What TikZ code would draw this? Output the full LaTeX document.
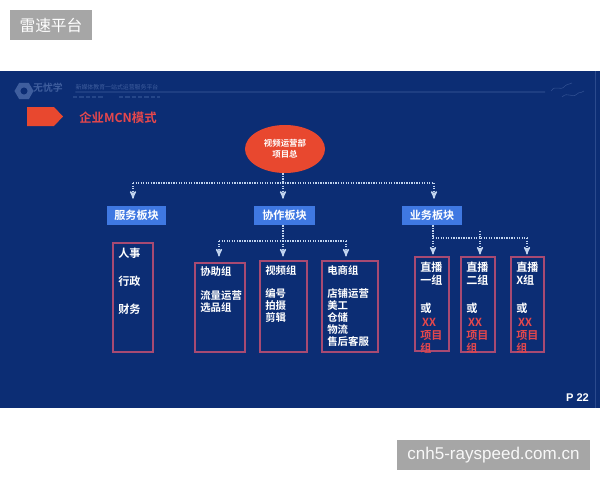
\documentclass[tikz,border=0pt]{standalone}
\usepackage{fontspec}
\setmainfont{Noto Sans CJK SC}[BoldFont={Noto Sans CJK SC Bold}]
\newfontfamily\latinfont{Liberation Sans}
\usepackage{tikz}
\usetikzlibrary{arrows,positioning,calc,shapes.geometric}
\definecolor{slidebg}{HTML}{0C2D74}
\definecolor{headcol}{HTML}{3F78E2}
\definecolor{bosscol}{HTML}{E8482F}
\definecolor{framecol}{HTML}{A84A72}
\definecolor{linkcol}{HTML}{C2D4EF}
\definecolor{redtxt}{HTML}{E5474C}
\definecolor{fadecol}{HTML}{3F5E9E}
\definecolor{tagcol}{HTML}{A6A6A6}
\newcommand{\zh}[1]{\fontsize{#1}{#1}\selectfont}
\tikzset{
 headbox/.style={fill=headcol, text=white, font=\bfseries\zh{7.9}, inner sep=0pt, minimum width=59\pxu, minimum height=19\pxu},
 grpbox/.style={draw=framecol, line width=0.75pt, inner sep=0pt},
 grptext/.style={anchor=north west, inner sep=0pt, text=white, align=left, font=\bfseries\zh{7.4}},
 tagbox/.style={fill=tagcol, text=white, inner sep=0pt},
 link/.style={line width=0.9pt, draw=linkcol, dash pattern=on 0.9pt off 0.9pt},
 linkarr/.style={link, ->, >=stealth', shorten >=7\pxu},
}
\newcommand{\pxu}{*0.7113pt}
\begin{document}
\begin{tikzpicture}[x=0.025cm, y=-0.025cm]
\useasboundingbox (0,0) rectangle (600,480);
\fill[slidebg] (0,71) rectangle (600,408);
\fill[fadecol!60!slidebg] (595,71) rectangle (596,408);
% header
\node[regular polygon, regular polygon sides=6, fill=fadecol, minimum size=19\pxu, inner sep=0pt] (logo) at (24,91) {};
\node[fill=slidebg, circle, minimum size=7\pxu, inner sep=0pt] (logohole) at (logo) {};
\node[text=fadecol, font=\bfseries\zh{7}, inner sep=0pt] (brand) at (48,88) {无忧学};
\node[text=fadecol, font=\zh{4.2}, inner sep=0pt] (slogan) at (117,87) {新媒体教育一站式运营服务平台};
\draw[fadecol, line width=0.6pt] (slogan.south west) ++(0,2) coordinate (rule1) -- (545,92) coordinate (rule2);
\draw[fadecol!50!slidebg, line width=1.5pt, dash pattern=on 3pt off 1.5pt] (73,97) -- (104,97);
\draw[fadecol!50!slidebg, line width=1.5pt, dash pattern=on 3pt off 1.5pt] (119,97) -- (160,97);
\draw[fadecol!70!slidebg, line width=0.4pt] (551,91) .. controls (556,84) and (560,92) .. (565,86) .. controls (568,83) and (570,85) .. (572,83);
\draw[fadecol!70!slidebg, line width=0.4pt] (562,97) .. controls (568,91) and (572,99) .. (577,94) .. controls (580,91) and (582,94) .. (584,91);
\path[fill=bosscol] (27,107) -- (54,107) -- (63,116.5) -- (54,126) -- (27,126) -- cycle;
\node[text=redtxt, font=\bfseries\zh{8.8}, anchor=west, inner sep=0pt] (title) at (79,118) {企业MCN模式};
% top level
\node[ellipse, fill=bosscol, text=white, align=center, font=\bfseries\zh{6}, minimum width=80\pxu, minimum height=48\pxu, inner sep=0pt] (boss) at (285,149) {视频运营部\\[1.5pt]项目总};
\node[headbox] (svc) at (136.5,215.5) {服务板块};
\node[headbox, minimum width=61\pxu] (coop) at (284.5,215.5) {协作板块};
\node[headbox] (biz) at (432,215.5) {业务板块};
\coordinate (trunk) at (283,183);
\coordinate (trunkl) at (133,183);
\coordinate (trunkr) at (434,183);
\draw[link] (trunk |- boss.south) -- (trunk);
\draw[link] (trunkl) -- (trunkr);
\draw[linkarr] (trunkl) -- (trunkl |- svc.north);
\draw[linkarr] (trunk) -- (trunk |- coop.north);
\draw[linkarr] (trunkr) -- (trunkr |- biz.north);
% service column
\node[grpbox, minimum width=40\pxu, minimum height=109\pxu] (g1) at (133,297.5) {};
\node[grptext, font=\bfseries\zh{7.9}] (g1t) at (118,247.5) {人事\\[12pt]行政\\[12pt]财务};
% cooperation column
\node[grpbox, minimum width=50\pxu, minimum height=89\pxu] (g2) at (220,307.5) {};
\node[grpbox, minimum width=47\pxu, minimum height=91\pxu] (g3) at (283.5,306.5) {};
\node[grpbox, minimum width=56\pxu, minimum height=91\pxu] (g4) at (350,306.5) {};
\node[grptext] (g2t) at (200,266) {协助组\\[10pt]流量运营\\[1.2pt]选品组};
\node[grptext] (g3t) at (265,265) {视频组\\[9pt]编号\\[1.2pt]拍摄\\[1.2pt]剪辑};
\node[grptext] (g4t) at (327,265) {电商组\\[9pt]店铺运营\\[1.2pt]美工\\[1.2pt]仓储\\[1.2pt]物流\\[1.2pt]售后客服};
\coordinate (midc) at (283,241);
\coordinate (midl) at (219,241);
\coordinate (midr) at (346,241);
\draw[link] (coop.south -| midc) -- (midc);
\draw[link] (midl) -- (midr);
\draw[linkarr, shorten >=6\pxu] (midl) -- (midl |- g2.north);
\draw[linkarr, shorten >=4\pxu] (midc) -- (midc |- g3.north);
\draw[linkarr, shorten >=4\pxu] (midr) -- (midr |- g4.north);
% business column
\node[grpbox, minimum width=34\pxu, minimum height=94\pxu] (g5) at (432,304) {};
\node[grpbox, minimum width=34\pxu, minimum height=95\pxu] (g6) at (478,304.5) {};
\node[grpbox, minimum width=33\pxu, minimum height=95\pxu] (g7) at (527.5,304.5) {};
\node[grptext, font=\bfseries\zh{7.9}] (g5t) at (420,262) {直播\\[1.5pt]一组\\[12pt]或\\[1.5pt]\textcolor{redtxt}{\,XX}\\[1.5pt]\textcolor{redtxt}{项目}\\[1.5pt]\textcolor{redtxt}{组}};
\node[grptext, font=\bfseries\zh{7.9}] (g6t) at (466,262) {直播\\[1.5pt]二组\\[12pt]或\\[1.5pt]\textcolor{redtxt}{\,XX}\\[1.5pt]\textcolor{redtxt}{项目}\\[1.5pt]\textcolor{redtxt}{组}};
\node[grptext, font=\bfseries\zh{7.9}] (g7t) at (516,262) {直播\\[1.5pt]X组\\[12pt]或\\[1.5pt]\textcolor{redtxt}{\,XX}\\[1.5pt]\textcolor{redtxt}{项目}\\[1.5pt]\textcolor{redtxt}{组}};
\coordinate (busl) at (433,238);
\coordinate (busm) at (480,238);
\coordinate (busr) at (527,238);
\draw[link] (biz.south -| busl) -- (busl);
\draw[link] (busl) -- (busr);
\draw[link] (480,231) coordinate (busm0) -- (busm);
\draw[linkarr, shorten >=2\pxu] (busl) -- (busl |- g5.north);
\draw[linkarr, shorten >=2\pxu] (busm) -- (busm |- g6.north);
\draw[linkarr, shorten >=2\pxu] (busr) -- (busr |- g7.north);
\node[text=white, font=\latinfont\bfseries\zh{7.9}, inner sep=0pt] (page) at (577.5,398) {P 22};
% tags
\node[tagbox, minimum width=82\pxu, minimum height=30\pxu, font=\zh{11.2}] (tag1) at (51,25) {雷速平台};
\node[tagbox, minimum width=193\pxu, minimum height=30\pxu, text=white!92!tagcol, font=\latinfont\zh{12.1}] (tag2) at (493.5,455) {cnh5-rayspeed.com.cn};
\end{tikzpicture}
\end{document}
